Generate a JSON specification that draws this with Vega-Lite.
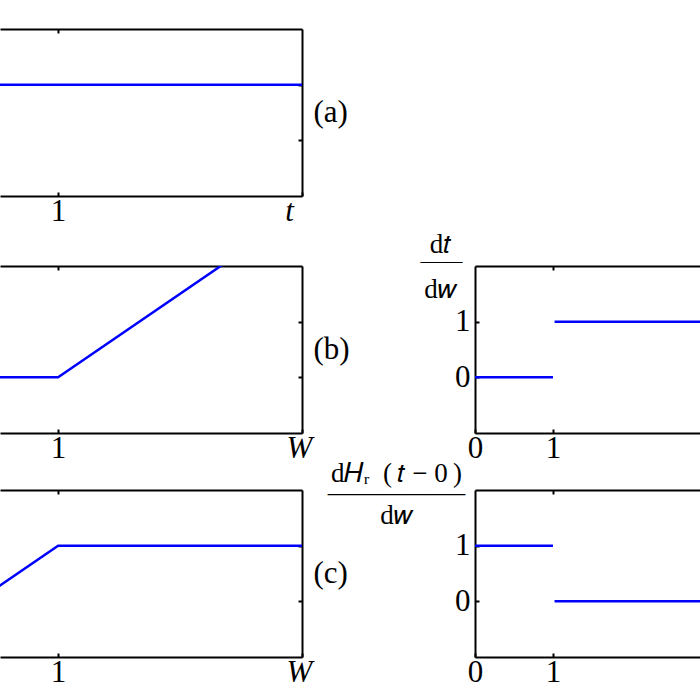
{
  "$schema": "https://vega.github.io/schema/vega-lite/v6.json",
  "padding": {"top": 28, "left": 0, "right": 0, "bottom": 0},
  "background": "white",
  "config": {
    "view": {"stroke": null},
    "axis": {"domainColor": "black", "domainWidth": 2, "tickColor": "black", "tickWidth": 2, "tickSize": -4, "grid": false, "labelFont": "Liberation Serif", "labelFontSize": 31, "labelColor": "black", "labelPadding": 4, "titleFont": "Liberation Serif", "titleFontWeight": "normal", "titleColor": "black"}
  },
  "datasets": {
    "d": [
      {"p": "a", "s": 1, "w": 0, "v": 1}, {"p": "a", "s": 1, "w": 4, "v": 1},
      {"p": "b", "s": 1, "w": 0, "v": 0}, {"p": "b", "s": 1, "w": 1, "v": 0}, {"p": "b", "s": 1, "w": 4, "v": 3},
      {"p": "c", "s": 1, "w": 0, "v": 0}, {"p": "c", "s": 1, "w": 1, "v": 1}, {"p": "c", "s": 1, "w": 4, "v": 1},
      {"p": "rb", "s": 1, "w": 0, "v": 0}, {"p": "rb", "s": 1, "w": 1, "v": 0}, {"p": "rb", "s": 2, "w": 1.02, "v": 1}, {"p": "rb", "s": 2, "w": 3, "v": 1},
      {"p": "rc", "s": 1, "w": 0, "v": 1}, {"p": "rc", "s": 1, "w": 1, "v": 1}, {"p": "rc", "s": 2, "w": 1.02, "v": 0}, {"p": "rc", "s": 2, "w": 3, "v": 0}
    ]
  },
  "columns": 2,
  "bounds": "flush",
  "spacing": {"row": 57, "column": 173},
  "concat": [
    {
      "width": 302, "height": 180,
      "data": {"name": "d"},
      "transform": [{"filter": "datum.p == 'a'"}],
      "layer": [
        {"mark": {"type": "line", "clip": true, "color": "#0000ff", "strokeWidth": 2.5},
         "encoding": {
           "x": {"field": "w", "type": "quantitative", "scale": {"domain": [0.285, 4], "nice": false, "zero": false},
                 "axis": {"orient": "bottom", "offset": -13, "values": [1, 4], "labelFlush": false, "labelExpr": "datum.value == 1 ? '1' : 't'", "labelFontStyle": {"condition": {"test": "datum.value == 4", "value": "italic"}, "value": "normal"}, "labelOffset": {"condition": {"test": "datum.value == 4", "value": -13}, "value": 0}, "title": null}},
           "y": {"field": "v", "type": "quantitative", "scale": {"domain": [-1, 2], "range": [167, 0], "nice": false, "zero": false},
                 "axis": {"orient": "right", "values": [0, 1], "labels": false, "title": "(a)", "titleAngle": 0, "titleAlign": "left", "titleBaseline": "middle", "titlePadding": 10, "titleFontSize": 31}},
           "detail": {"field": "s", "type": "nominal"}
         }},
        {"mark": {"type": "line", "clip": true, "opacity": 0},
         "encoding": {
           "x": {"field": "w", "type": "quantitative", "axis": {"orient": "top", "values": [1], "labels": false, "title": null}},
           "y": {"field": "v", "type": "quantitative", "axis": null}
         }}
      ],
      "resolve": {"axis": {"x": "independent", "y": "independent"}}
    },
    {
      "width": 225, "height": 180,
      "data": {"values": [{"k": 1}]},
      "mark": {"type": "text"},
      "encoding": {"text": {"value": ""}}
    },
    {
      "width": 302, "height": 167,
      "data": {"name": "d"},
      "transform": [{"filter": "datum.p == 'b'"}],
      "layer": [
        {"mark": {"type": "line", "clip": true, "color": "#0000ff", "strokeWidth": 2.5},
         "encoding": {
           "x": {"field": "w", "type": "quantitative", "scale": {"domain": [0.285, 4], "nice": false, "zero": false},
                 "axis": {"orient": "bottom", "values": [1, 4], "labelFlush": false, "labelExpr": "datum.value == 1 ? '1' : 'W'", "labelFontStyle": {"condition": {"test": "datum.value == 4", "value": "italic"}, "value": "normal"}, "labelOffset": {"condition": {"test": "datum.value == 4", "value": -3}, "value": 0}, "title": null}},
           "y": {"field": "v", "type": "quantitative", "scale": {"domain": [-1, 2], "nice": false, "zero": false},
                 "axis": {"orient": "right", "values": [0, 1], "labels": false, "title": "(b)", "titleAngle": 0, "titleAlign": "left", "titleBaseline": "middle", "titlePadding": 10, "titleFontSize": 31}},
           "detail": {"field": "s", "type": "nominal"}
         }},
        {"mark": {"type": "line", "clip": true, "opacity": 0},
         "encoding": {
           "x": {"field": "w", "type": "quantitative", "axis": {"orient": "top", "values": [1], "labels": false, "title": null}},
           "y": {"field": "v", "type": "quantitative", "axis": null}
         }}
      ],
      "resolve": {"axis": {"x": "independent", "y": "independent"}}
    },
    {
      "width": 225, "height": 167,
      "data": {"name": "d"},
      "transform": [{"filter": "datum.p == 'rb'"}],
      "layer": [
        {"mark": {"type": "line", "clip": true, "color": "#0000ff", "strokeWidth": 2.5},
         "encoding": {
           "x": {"field": "w", "type": "quantitative", "scale": {"domain": [0, 2.885], "nice": false, "zero": false},
                 "axis": {"orient": "bottom", "values": [0, 1], "labelFlush": false, "title": null}},
           "y": {"field": "v", "type": "quantitative", "scale": {"domain": [-1, 2], "nice": false, "zero": false},
                 "axis": {"orient": "left", "values": [0, 1], "labelPadding": 9, "title": ["d𝑡", "d𝑤"], "titleAngle": 0, "titleAlign": "center", "titleBaseline": "alphabetic", "titleX": -35, "titleY": -14, "titleLineHeight": 45, "titleFontSize": 27}},
           "detail": {"field": "s", "type": "nominal"}
         }},
        {"mark": {"type": "line", "clip": true, "opacity": 0},
         "encoding": {
           "x": {"field": "w", "type": "quantitative", "axis": {"orient": "top", "values": [1], "labels": false, "title": "——", "titleAngle": 0, "titleAlign": "center", "titleBaseline": "alphabetic", "titleX": -34, "titleY": 1, "titleFontSize": 21}},
           "y": {"field": "v", "type": "quantitative", "axis": null}
         }}
      ],
      "resolve": {"axis": {"x": "independent", "y": "independent"}}
    },
    {
      "width": 302, "height": 167,
      "data": {"name": "d"},
      "transform": [{"filter": "datum.p == 'c'"}],
      "layer": [
        {"mark": {"type": "line", "clip": true, "color": "#0000ff", "strokeWidth": 2.5},
         "encoding": {
           "x": {"field": "w", "type": "quantitative", "scale": {"domain": [0.285, 4], "nice": false, "zero": false},
                 "axis": {"orient": "bottom", "values": [1, 4], "labelFlush": false, "labelExpr": "datum.value == 1 ? '1' : 'W'", "labelFontStyle": {"condition": {"test": "datum.value == 4", "value": "italic"}, "value": "normal"}, "labelOffset": {"condition": {"test": "datum.value == 4", "value": -3}, "value": 0}, "title": null}},
           "y": {"field": "v", "type": "quantitative", "scale": {"domain": [-1, 2], "nice": false, "zero": false},
                 "axis": {"orient": "right", "values": [0, 1], "labels": false, "title": "(c)", "titleAngle": 0, "titleAlign": "left", "titleBaseline": "middle", "titlePadding": 10, "titleFontSize": 31}},
           "detail": {"field": "s", "type": "nominal"}
         }},
        {"mark": {"type": "line", "clip": true, "opacity": 0},
         "encoding": {
           "x": {"field": "w", "type": "quantitative", "axis": {"orient": "top", "values": [1], "labels": false, "title": null}},
           "y": {"field": "v", "type": "quantitative", "axis": null}
         }}
      ],
      "resolve": {"axis": {"x": "independent", "y": "independent"}}
    },
    {
      "width": 225, "height": 167,
      "data": {"name": "d"},
      "transform": [{"filter": "datum.p == 'rc'"}],
      "layer": [
        {"mark": {"type": "line", "clip": true, "color": "#0000ff", "strokeWidth": 2.5},
         "encoding": {
           "x": {"field": "w", "type": "quantitative", "scale": {"domain": [0, 2.885], "nice": false, "zero": false},
                 "axis": {"orient": "bottom", "values": [0, 1], "labelFlush": false, "title": null}},
           "y": {"field": "v", "type": "quantitative", "scale": {"domain": [-1, 2], "nice": false, "zero": false},
                 "axis": {"orient": "left", "values": [0, 1], "labelPadding": 9, "title": ["d𝐻ᵣ\u2002(\u2009𝑡 − 0\u2009)", "d𝑤"], "titleAngle": 0, "titleAlign": "center", "titleBaseline": "alphabetic", "titleX": -79, "titleY": -9, "titleLineHeight": 42, "titleFontSize": 27}},
           "detail": {"field": "s", "type": "nominal"}
         }},
        {"mark": {"type": "line", "clip": true, "opacity": 0},
         "encoding": {
           "x": {"field": "w", "type": "quantitative", "axis": {"orient": "top", "values": [1], "labels": false, "title": "—————–", "titleAngle": 0, "titleAlign": "center", "titleBaseline": "alphabetic", "titleX": -79, "titleY": 10, "titleFontSize": 25}},
           "y": {"field": "v", "type": "quantitative", "axis": null}
         }}
      ],
      "resolve": {"axis": {"x": "independent", "y": "independent"}}
    }
  ]
}
